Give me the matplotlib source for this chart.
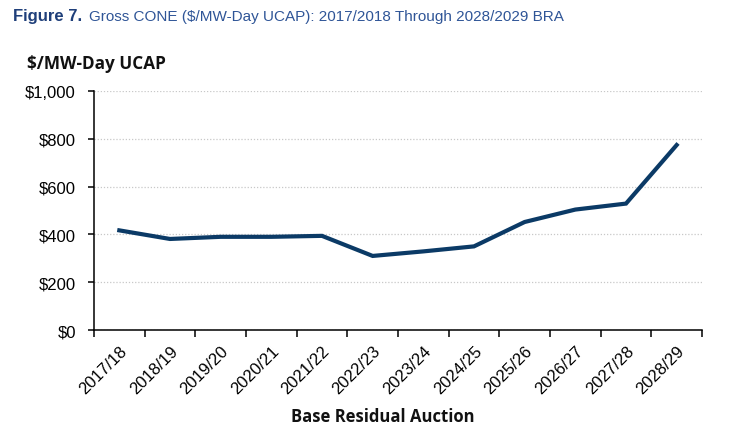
import matplotlib
matplotlib.use("Agg")
import matplotlib.pyplot as plt
from matplotlib.ticker import FuncFormatter

# ===== DATA =====
auctions = ["2017/18", "2018/19", "2019/20", "2020/21", "2021/22", "2022/23",
            "2023/24", "2024/25", "2025/26", "2026/27", "2027/28", "2028/29"]
gross_cone = [417, 381, 390, 390, 394, 310, 329, 350, 452, 504, 529, 774]

NAVY = "#0b3a66"
TITLE_DARK = "#1f3f7a"
TITLE_LIGHT = "#2f5597"
SANS = ["Liberation Sans", "DejaVu Sans"]
BOLD_SANS = ["Open Sans", "DejaVu Sans"]

fig = plt.figure(figsize=(7.5, 4.35), dpi=100)
ax = fig.add_axes([0.1253, 0.239, 0.8107, 0.5495])

x = list(range(len(auctions)))
ax.plot(x, gross_cone, color=NAVY, linewidth=3.0, solid_joinstyle="miter")

ax.set_xlim(-0.5, len(auctions) - 0.5)
ax.set_ylim(0, 1000)
ax.set_yticks(range(0, 1001, 200))
ax.yaxis.set_major_formatter(FuncFormatter(lambda v, p: f"${v:,.0f}"))
ax.set_xticks(x)
ax.set_xticklabels(auctions, rotation=45, ha="right", rotation_mode="anchor",
                   family=SANS, fontsize=12)
ax.set_xticks([i - 0.5 for i in range(len(auctions) + 1)], minor=True)
ax.tick_params(axis="x", which="major", length=0, pad=9)
ax.tick_params(axis="x", which="minor", length=5, width=1.1, direction="out")
ax.tick_params(axis="y", length=4, width=1.1, pad=9)
for lab in ax.get_yticklabels():
    lab.set_family(SANS)
    lab.set_fontsize(12)

ax.grid(axis="y", linestyle=(0, (1, 1.5)), color="#c8c8c8", linewidth=0.9)
ax.set_axisbelow(True)
for side in ["top", "right"]:
    ax.spines[side].set_visible(False)
for side in ["left", "bottom"]:
    ax.spines[side].set_linewidth(1.1)

# titles
fig.text(0.017, 0.962, "Figure 7.", family=SANS, fontsize=12,
         fontweight="bold", color=TITLE_DARK, va="center")
fig.text(0.119, 0.962, "Gross CONE ($/MW-Day UCAP): 2017/2018 Through 2028/2029 BRA",
         family=SANS, fontsize=11, color=TITLE_LIGHT, va="center")
fig.text(0.036, 0.853, "$/MW-Day UCAP", family=BOLD_SANS,
         fontsize=12.3, fontweight="bold", color="#111111", va="center")
fig.text(0.51, 0.042, "Base Residual Auction", family=BOLD_SANS,
         fontsize=12, fontweight="bold", color="#111111", ha="center", va="center")

fig.savefig("out.png", dpi=100)
